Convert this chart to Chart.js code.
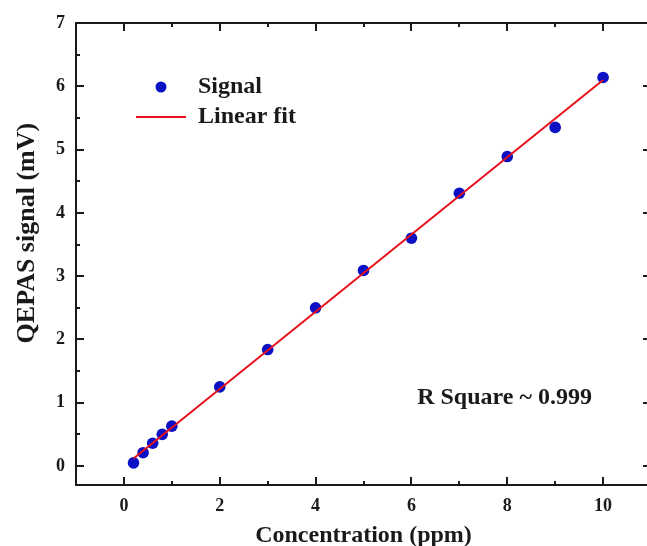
<!DOCTYPE html>
<html>
<head>
<meta charset="utf-8">
<script src="https://cdn.jsdelivr.net/npm/chart.js@4.4.1/dist/chart.umd.min.js"></script>
<style>
  html, body { margin: 0; padding: 0; background: #fff; overflow: hidden; }
  #wrap { position: relative; width: 647px; height: 546px; overflow: hidden; }
</style>
</head>
<body>
<div id="wrap"><canvas id="calChart" width="660" height="546"></canvas></div>
<script>
// calibration data: concentration (ppm) vs QEPAS signal (mV)
var concentration = [0.2, 0.4, 0.6, 0.8, 1, 2, 3, 4, 5, 6, 7, 8, 9, 10];
var signal = [0.05, 0.21, 0.36, 0.50, 0.63, 1.25, 1.84, 2.50, 3.09, 3.60, 4.31, 4.89, 5.35, 6.14];

// end points of the linear fit
var fitX = [0.2, 10];
var fitY = [0.12, 6.10];

var xTicks = [0, 2, 4, 6, 8, 10];
var xMinor = [1, 3, 5, 7, 9];
var yTicks = [0, 1, 2, 3, 4, 5, 6, 7];
var yMinor = [0.5, 1.5, 2.5, 3.5, 4.5, 5.5, 6.5];
var yTitle = 'QEPAS signal (mV)';
var rSquareText = 'R Square ~ 0.999';

var serif = "'Liberation Serif', 'Times New Roman', serif";
var blue = '#0a10c4';
var red = '#e8101a';
var ink = '#1a1a1a';

function pairs(xs, ys) {
    return xs.map(function (v, i) { return {x: v, y: ys[i]}; });
}

// box frame, inward ticks on all four sides, y title, legend and R² note
var frameTicks = {
    id: 'frameTicks',
    afterDraw: function (chart) {
        var ctx = chart.ctx, a = chart.chartArea;
        var x = chart.scales.x, y = chart.scales.y;
        ctx.save();
        ctx.strokeStyle = ink;
        ctx.lineWidth = 2;
        ctx.strokeRect(a.left, a.top, a.right - a.left, a.bottom - a.top);

        ctx.beginPath();
        function xt(v, len) {
            var px = Math.round(x.getPixelForValue(v));
            ctx.moveTo(px, a.bottom); ctx.lineTo(px, a.bottom - len);
            ctx.moveTo(px, a.top); ctx.lineTo(px, a.top + len);
        }
        function yt(v, len) {
            var py = Math.round(y.getPixelForValue(v));
            ctx.moveTo(a.left, py); ctx.lineTo(a.left + len, py);
            ctx.moveTo(a.right, py); ctx.lineTo(a.right - len, py);
        }
        xTicks.forEach(function (v) { xt(v, 8); });
        xMinor.forEach(function (v) { xt(v, 4); });
        yTicks.forEach(function (v) { yt(v, 8); });
        yMinor.forEach(function (v) { yt(v, 4); });
        ctx.stroke();

        ctx.fillStyle = ink;
        ctx.textBaseline = 'middle';

        // y axis title, sits a bit above the middle of the axis
        ctx.save();
        ctx.translate(27, y.getPixelForValue(3.68));
        ctx.rotate(-Math.PI / 2);
        ctx.textAlign = 'center';
        ctx.font = 'bold 26px ' + serif;
        ctx.fillText(yTitle, 0, 0);
        ctx.restore();

        // legend
        var ds = chart.data.datasets;
        var lx = a.left + 85, ly = a.top + 64;
        ctx.fillStyle = blue;
        ctx.beginPath();
        ctx.arc(lx, ly, 5.5, 0, Math.PI * 2);
        ctx.fill();
        ctx.strokeStyle = red;
        ctx.lineWidth = 2;
        ctx.beginPath();
        ctx.moveTo(lx - 25, ly + 30); ctx.lineTo(lx + 25, ly + 30);
        ctx.stroke();
        ctx.fillStyle = ink;
        ctx.font = 'bold 24px ' + serif;
        ctx.textAlign = 'left';
        ctx.fillText(ds[1].label, lx + 37, ly);
        ctx.fillText(ds[0].label, lx + 37, ly + 30);

        // goodness of fit
        ctx.fillText(rSquareText, x.getPixelForValue(6.12), y.getPixelForValue(1.07));
        ctx.restore();
    }
};

var ctx = document.getElementById('calChart').getContext('2d');
new Chart(ctx, {
    type: 'scatter',
    data: {
        datasets: [
            {
                label: 'Linear fit',
                data: pairs(fitX, fitY),
                showLine: true,
                borderColor: red,
                borderWidth: 2,
                pointRadius: 0,
                order: 0
            },
            {
                label: 'Signal',
                data: pairs(concentration, signal),
                backgroundColor: blue,
                borderWidth: 0,
                pointRadius: 5.8,
                order: 1
            }
        ]
    },
    options: {
        responsive: false,
        animation: false,
        devicePixelRatio: 1,
        // the canvas is wider than the page so the right edge of the frame is cut off
        layout: {padding: {top: 23, right: 9, left: 0, bottom: 0}},
        plugins: {legend: {display: false}, tooltip: {enabled: false}},
        scales: {
            x: {
                type: 'linear',
                min: -1,
                max: 11,
                afterBuildTicks: function (s) { s.ticks = xTicks.map(function (v) { return {value: v}; }); },
                afterFit: function (s) { s.height = 61; },
                grid: {display: false, drawTicks: false},
                border: {display: false},
                ticks: {color: ink, padding: 11, font: {family: serif, size: 18, weight: 'bold'}},
                title: {
                    display: true,
                    text: 'Concentration (ppm)',
                    color: ink,
                    padding: {top: 0, bottom: 0},
                    font: {family: serif, size: 24, weight: 'bold', lineHeight: 0.85}
                }
            },
            y: {
                type: 'linear',
                min: -0.3,
                max: 7,
                afterBuildTicks: function (s) { s.ticks = yTicks.map(function (v) { return {value: v}; }); },
                afterFit: function (s) { s.width = 76; },
                grid: {display: false, drawTicks: false},
                border: {display: false},
                ticks: {color: ink, padding: 11, font: {family: serif, size: 18, weight: 'bold'}},
                title: {display: false}
            }
        }
    },
    plugins: [frameTicks]
});
</script>
</body>
</html>
